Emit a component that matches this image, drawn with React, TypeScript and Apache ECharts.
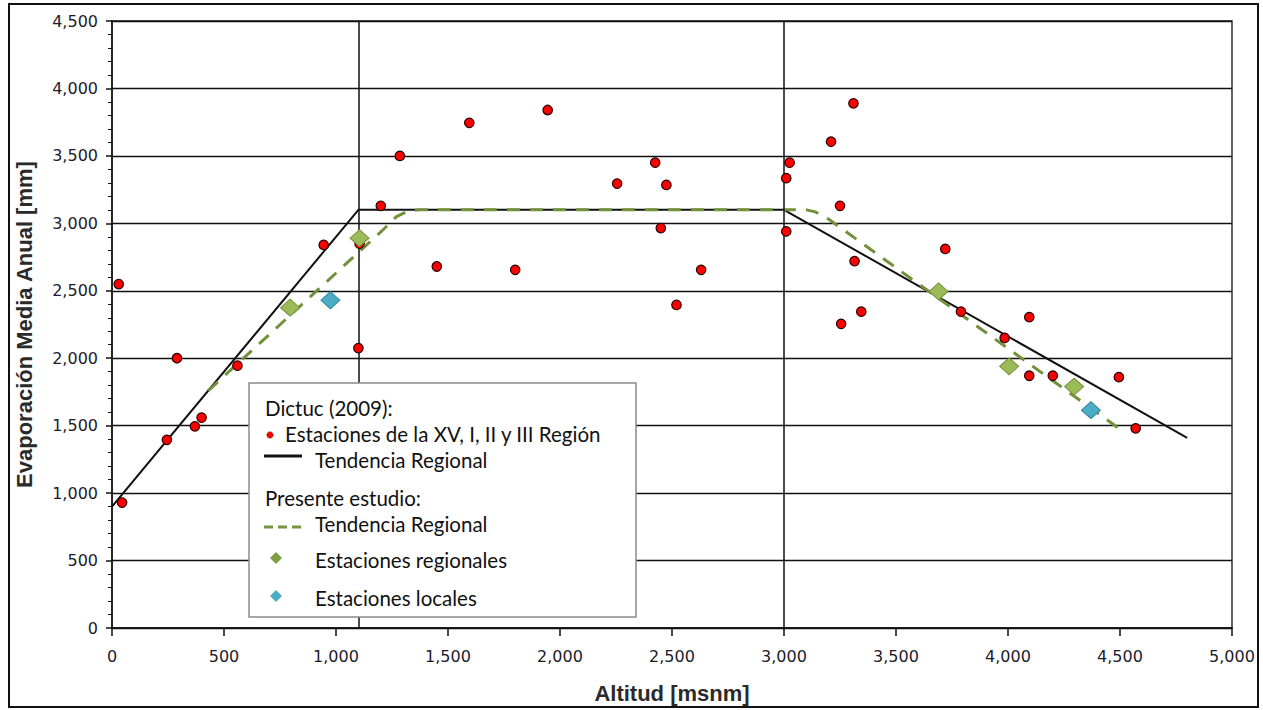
import React, { useEffect, useRef } from "react";
import * as echarts from "echarts";

// Dictuc (2009) stations: altitude (msnm) and annual evaporation (mm)
const dictucAltitud = [30, 45, 290, 245, 370, 400, 560, 945, 1100, 1105, 1200, 1285, 1450, 1595, 1800, 1945, 2255, 2425, 2475, 2450, 2630, 2520, 3010, 3025, 3010, 3210, 3310, 3250, 3315, 3720, 3345, 3255, 3790, 4095, 3985, 4095, 4200, 4495, 4570];
const dictucEvap = [2550, 930, 2000, 1395, 1495, 1560, 1945, 2840, 2075, 2850, 3130, 3500, 2680, 3745, 2655, 3840, 3295, 3450, 3285, 2965, 2655, 2395, 3335, 3450, 2940, 3605, 3890, 3130, 2720, 2810, 2345, 2255, 2345, 2305, 2150, 1870, 1870, 1860, 1480];

// Dictuc regional trend
const dictucTrendAlt = [0, 1100, 3000, 4800];
const dictucTrendEvap = [900, 3100, 3100, 1410];

// Present study regional trend
const estudioTrendAlt = [430, 1215, 1270, 1320, 1370, 3100, 3140, 3200, 4520];
const estudioTrendEvap = [1760, 2960, 3050, 3090, 3100, 3100, 3085, 3030, 1450];

// Present study stations
const regionalesAlt = [795, 1105, 3690, 4005, 4295];
const regionalesEvap = [2375, 2890, 2495, 1940, 1790];
const localesAlt = [975, 4370];
const localesEvap = [2430, 1615];

// Breakpoints of the regional trend (vertical reference lines)
const breakpoints = [1100, 3000];

const zip = (a: number[], b: number[]) => a.map((v, i) => [v, b[i]]);

const LEG_FONT = "Lato, 'Noto Sans', sans-serif";

export default function App() {
  const ref = useRef<HTMLDivElement>(null);
  useEffect(() => {
    if (!ref.current) return;
    const chart = echarts.init(ref.current, undefined, { renderer: "svg" });
    const legText = (text: string, x: number, y: number) => ({
      type: "text",
      x,
      y,
      z: 101,
      style: { text, fill: "#111", font: `20.5px ${LEG_FONT}`, verticalAlign: "middle", align: "left" },
    });
    const diamond = (cx: number, cy: number, fill: string) => ({
      type: "polygon",
      z: 101,
      shape: { points: [[cx, cy - 6], [cx + 6, cy], [cx, cy + 6], [cx - 6, cy]] },
      style: { fill },
    });
    chart.setOption({
      animation: false,
      backgroundColor: "#ffffff",
      grid: { left: 112, right: 31, top: 21, bottom: 82, show: true, borderColor: "#111", borderWidth: 1.3, backgroundColor: "transparent" },
      xAxis: {
        type: "value",
        min: 0,
        max: 5000,
        interval: 500,
        name: "Altitud [msnm]",
        nameLocation: "middle",
        nameGap: 54,
        nameTextStyle: { fontFamily: "'Liberation Sans', Arial, sans-serif", fontWeight: "bold", fontSize: 22, color: "#2a2a2a" },
        axisLine: { lineStyle: { color: "#111", width: 1.5 } },
        axisTick: { show: true, length: 8, lineStyle: { color: "#111", width: 1.5 } },
        axisLabel: {
          margin: 20,
          fontFamily: "'DejaVu Sans', Verdana, sans-serif",
          fontSize: 16,
          color: "#1c1c2c",
          formatter: (v: number) => v.toLocaleString("en-US"),
        },
        splitLine: { show: false },
      },
      yAxis: {
        type: "value",
        min: 0,
        max: 4500,
        interval: 500,
        name: "Evaporación Media Anual [mm]",
        nameLocation: "middle",
        nameGap: 77,
        nameTextStyle: { fontFamily: "'Liberation Sans', Arial, sans-serif", fontWeight: "bold", fontSize: 22, color: "#2a2a2a" },
        axisLine: { show: true, lineStyle: { color: "#111", width: 1.5 } },
        axisTick: { show: true, length: 6, lineStyle: { color: "#111", width: 1.5 } },
        minorTick: { show: true, splitNumber: 5, length: 4, lineStyle: { color: "#111", width: 1 } },
        axisLabel: {
          margin: 14,
          fontFamily: "'DejaVu Sans', Verdana, sans-serif",
          fontSize: 16,
          color: "#1c1c2c",
          formatter: (v: number) => v.toLocaleString("en-US"),
        },
        splitLine: { show: true, lineStyle: { color: "#111", width: 1.3 } },
      },
      series: [
        {
          name: "Tendencia Regional Dictuc",
          type: "line",
          data: zip(dictucTrendAlt, dictucTrendEvap),
          symbol: "none",
          lineStyle: { color: "#111", width: 2 },
          z: 3,
          markLine: {
            silent: true,
            symbol: "none",
            label: { show: false },
            lineStyle: { color: "#111", width: 1.5, type: "solid" },
            data: breakpoints.map((b) => ({ xAxis: b })),
          },
        },
        {
          name: "Tendencia Regional Estudio",
          type: "line",
          data: zip(estudioTrendAlt, estudioTrendEvap),
          symbol: "none",
          lineStyle: { color: "#71913a", width: 3, type: [13, 10] },
          z: 4,
        },
        {
          name: "Estaciones de la XV, I, II y III Región",
          type: "scatter",
          data: zip(dictucAltitud, dictucEvap),
          symbol: "circle",
          symbolSize: 9.5,
          itemStyle: { color: "#ff0000", borderColor: "#2a0000", borderWidth: 1.2, opacity: 1 },
          z: 5,
        },
        {
          name: "Estaciones regionales",
          type: "scatter",
          data: zip(regionalesAlt, regionalesEvap),
          symbol: "diamond",
          symbolSize: [19, 17],
          itemStyle: { color: "#9bbb59", borderColor: "#76923c", borderWidth: 1, opacity: 1 },
          z: 6,
        },
        {
          name: "Estaciones locales",
          type: "scatter",
          data: zip(localesAlt, localesEvap),
          symbol: "diamond",
          symbolSize: [19, 17],
          itemStyle: { color: "#4bacc6", borderColor: "#31849b", borderWidth: 1, opacity: 1 },
          z: 6,
        },
      ],
      graphic: [
        {
          type: "rect",
          z: 0,
          silent: true,
          shape: { x: 9, y: 4, width: 1249, height: 703 },
          style: { fill: "none", stroke: "#111", lineWidth: 2 },
        },
        {
          type: "rect",
          z: 100,
          shape: { x: 249, y: 383, width: 387, height: 234 },
          style: { fill: "#ffffff", stroke: "#8a8a8a", lineWidth: 1.5 },
        },
        legText("Dictuc (2009):", 265, 408),
        { type: "circle", z: 101, shape: { cx: 270, cy: 435, r: 3.2 }, style: { fill: "#ff0000", stroke: "#7a0000", lineWidth: 0.5 } },
        legText("Estaciones de la XV, I, II y III Región", 285, 434),
        { type: "line", z: 101, shape: { x1: 264, y1: 456, x2: 302, y2: 456 }, style: { stroke: "#111", lineWidth: 3 } },
        legText("Tendencia Regional", 315, 460),
        legText("Presente estudio:", 265, 498),
        { type: "line", z: 101, shape: { x1: 264, y1: 527, x2: 301, y2: 527 }, style: { stroke: "#77933c", lineWidth: 3, lineDash: [9, 5] } },
        legText("Tendencia Regional", 315, 524),
        diamond(276, 558, "#7f9f45"),
        legText("Estaciones regionales", 315, 560),
        diamond(276, 596, "#4bacc6"),
        legText("Estaciones locales", 315, 598),
      ],
    });
    return () => chart.dispose();
  }, []);
  return (
    <div
      ref={ref}
      style={{ position: "absolute", left: 0, top: 0, width: 1263, height: 710, background: "#fff" }}
    />
  );
}
